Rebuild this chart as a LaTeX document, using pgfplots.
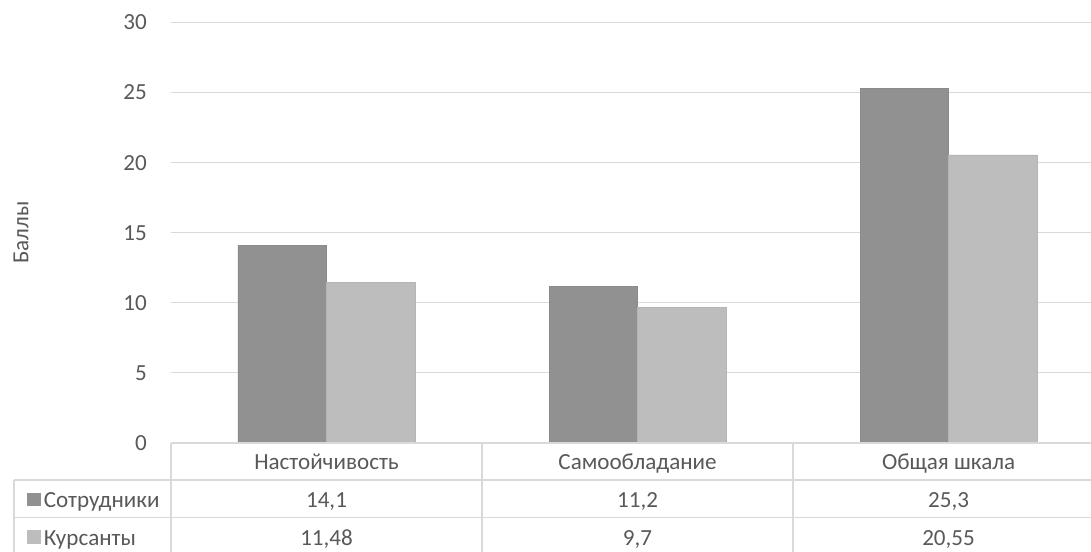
\documentclass[border=0pt]{standalone}
\usepackage{pgfplots}
\pgfplotsset{compat=1.18}
\usepackage{fontspec}
\setmainfont{Carlito}

\definecolor{txt}{HTML}{595959}
\definecolor{gridc}{HTML}{D9D9D9}
\definecolor{sotr}{HTML}{919191}
\definecolor{kurs}{HTML}{BDBDBD}

% 1px of the reference = 0.75pt
\begin{document}
\begin{tikzpicture}[font=\fontsize{17.3}{20}\selectfont, text=txt]
\begin{axis}[
    at={(0pt,0pt)}, anchor=south west,
    scale only axis,
    width=690pt, height=315.4pt,
    xmin=-0.5, xmax=2.458,
    ymin=0, ymax=30,
    ybar=0pt, bar width=66.4pt,
    axis line style={draw=none},
    major tick length=0pt,
    ytick={0,5,...,30},
    ymajorgrids,
    grid style={gridc, line width=0.75pt},
    xtick={0,1,2},
    xticklabels={Настойчивость,Самообладание,Общая шкала},
    xticklabel style={anchor=base, yshift=-19.7pt},
    yticklabel style={anchor=east, inner sep=0pt, xshift=-18pt},
    /pgf/number format/assume math mode=true,
    ylabel={Баллы},
    ylabel style={at={(rel axis cs:-0.163,0.5)}, anchor=center},
    clip=false,
]
\addplot[fill=sotr, draw=sotr!95!black, line width=0.4pt] coordinates {(0,14.1) (1,11.2) (2,25.3)};
\addplot[fill=kurs, draw=kurs!95!black, line width=0.4pt] coordinates {(0,11.48) (1,9.7) (2,20.55)};

% data table under the plot
\begin{scope}[gridc, line width=1.1pt]
  \draw (axis cs:-0.5,0) -- (axis cs:2.7,0);
  \draw ([xshift=-117.75pt,yshift=-27.75pt]axis cs:-0.5,0) -- ([yshift=-27.75pt]axis cs:2.7,0);
  \draw ([xshift=-117.75pt,yshift=-55.9pt]axis cs:-0.5,0) -- ([yshift=-55.9pt]axis cs:2.7,0);
  \draw ([xshift=-117.75pt,yshift=-84pt]axis cs:-0.5,0) -- ([yshift=-84pt]axis cs:2.7,0);
  \draw ([xshift=-117.75pt,yshift=-27.75pt]axis cs:-0.5,0) -- ([xshift=-117.75pt,yshift=-84pt]axis cs:-0.5,0);
  \draw (axis cs:-0.5,0) -- ([yshift=-84pt]axis cs:-0.5,0);
  \draw (axis cs:0.5,0) -- ([yshift=-84pt]axis cs:0.5,0);
  \draw (axis cs:1.5,0) -- ([yshift=-84pt]axis cs:1.5,0);
  \draw (axis cs:2.5,0) -- ([yshift=-84pt]axis cs:2.5,0);
\end{scope}
\fill[sotr] ([xshift=-108pt,yshift=-47.6pt]axis cs:-0.5,0) rectangle ([xshift=-97.6pt,yshift=-37.2pt]axis cs:-0.5,0);
\fill[kurs] ([xshift=-108pt,yshift=-75.7pt]axis cs:-0.5,0) rectangle ([xshift=-97.6pt,yshift=-65.3pt]axis cs:-0.5,0);
\node[anchor=base west, inner sep=0pt] at ([xshift=-95.5pt,yshift=-48.2pt]axis cs:-0.5,0) {Сотрудники};
\node[anchor=base west, inner sep=0pt] at ([xshift=-95.5pt,yshift=-76.5pt]axis cs:-0.5,0) {Курсанты};
\node[anchor=base, inner sep=0pt] at ([yshift=-48.2pt]axis cs:0,0) {14,1};
\node[anchor=base, inner sep=0pt] at ([yshift=-48.2pt]axis cs:1,0) {11,2};
\node[anchor=base, inner sep=0pt] at ([yshift=-48.2pt]axis cs:2,0) {25,3};
\node[anchor=base, inner sep=0pt] at ([yshift=-76.5pt]axis cs:0,0) {11,48};
\node[anchor=base, inner sep=0pt] at ([yshift=-76.5pt]axis cs:1,0) {9,7};
\node[anchor=base, inner sep=0pt] at ([yshift=-76.5pt]axis cs:2,0) {20,55};
\end{axis}
\pgfresetboundingbox
\path[use as bounding box] (-128.25pt,-81pt) rectangle (690pt,332.25pt);
\end{tikzpicture}
\end{document}
